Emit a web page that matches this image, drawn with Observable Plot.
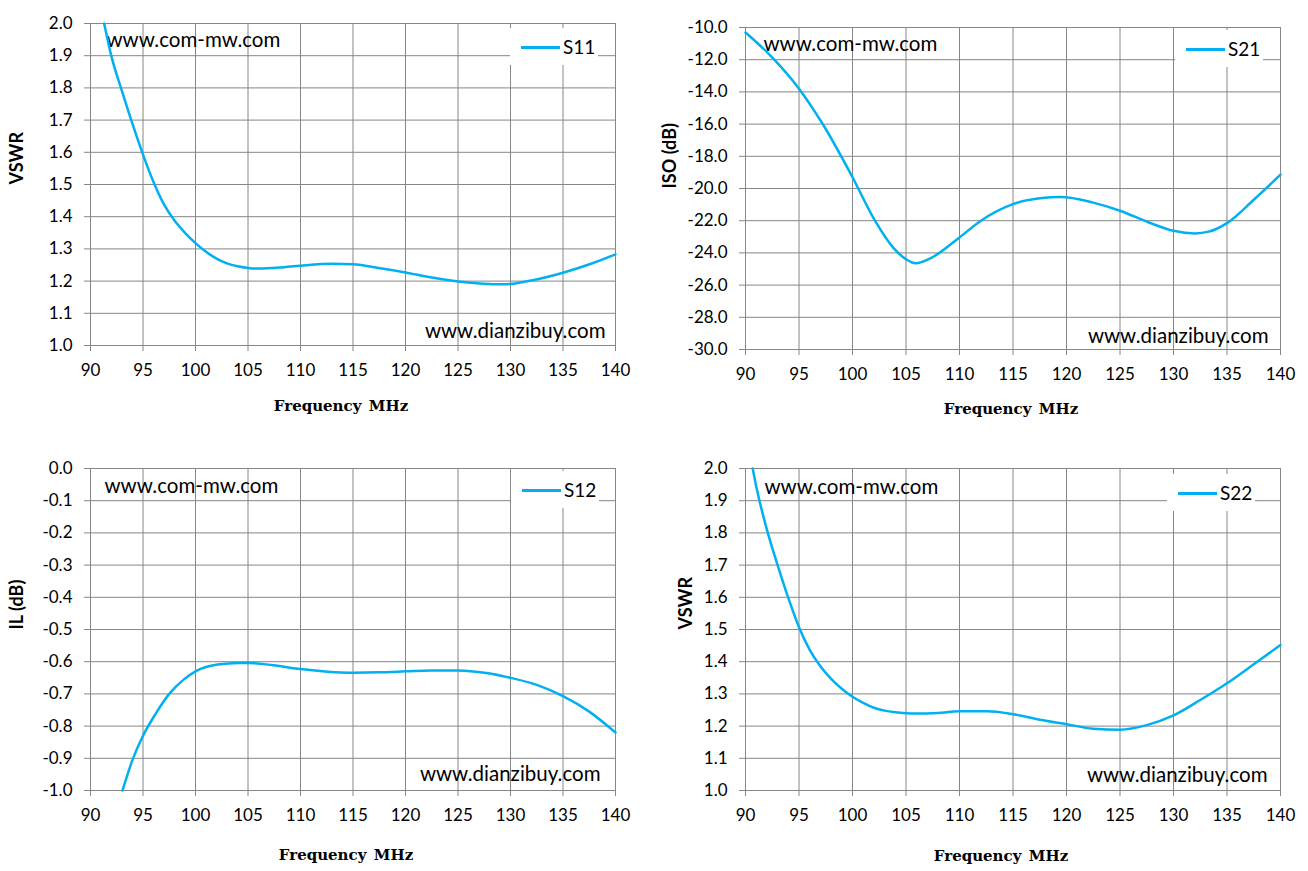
<!DOCTYPE html>
<html><head><meta charset="utf-8">
<script src="https://cdn.jsdelivr.net/npm/d3@7"></script>
<script src="https://cdn.jsdelivr.net/npm/@observablehq/plot@0.6"></script>
<style>
body{margin:0;background:#fff;}
#root{position:relative;width:1308px;height:871px;overflow:hidden;background:#fff;font-family:Lato,sans-serif;}
.panel{position:absolute;}
.legend{position:absolute;background:#fff;width:88px;height:37px;}
.legend .sw{position:absolute;left:11px;top:18px;width:39px;height:2.5px;background:#00B0F0;}
.legend .lt{position:absolute;left:53px;top:7px;font-size:19px;line-height:24px;color:#000;font-family:Lato,sans-serif;}
</style></head><body><div id="root"></div>
<script>
// ---- data ----
const xTicks = [90, 95, 100, 105, 110, 115, 120, 125, 130, 135, 140];
const vswrTicks = [1.0, 1.1, 1.2, 1.3, 1.4, 1.5, 1.6, 1.7, 1.8, 1.9, 2.0];
const isoTicks = [-30, -28, -26, -24, -22, -20, -18, -16, -14, -12, -10];
const ilTicks = [-1.0, -0.9, -0.8, -0.7, -0.6, -0.5, -0.4, -0.3, -0.2, -0.1, 0.0];

const s11Freq = [91.3, 92, 93, 94, 95, 96, 97, 98, 99, 100, 101, 102, 103, 104, 105, 106, 108, 110, 113, 115, 117.6, 120, 122.5, 125, 127.4, 129.1, 130, 131.7, 135, 137.6, 140];
const s11Vswr = [2.0, 1.897, 1.790, 1.688, 1.593, 1.508, 1.438, 1.388, 1.350, 1.318, 1.291, 1.270, 1.255, 1.246, 1.241, 1.239, 1.242, 1.248, 1.254, 1.252, 1.240, 1.227, 1.211, 1.199, 1.192, 1.190, 1.191, 1.200, 1.226, 1.253, 1.283];

const s21Freq = [90, 91, 92.6, 95, 97.2, 100, 102.1, 103.8, 105, 105.9, 107.4, 110, 112, 115, 117.5, 119.5, 122.4, 125, 127.7, 130, 132, 133.3, 135, 137.5, 140];
const s21Iso = [-10.31, -10.9, -11.93, -13.8, -15.98, -19.3, -22.0, -23.67, -24.39, -24.64, -24.29, -23.04, -22.0, -20.97, -20.61, -20.53, -20.86, -21.38, -22.11, -22.63, -22.79, -22.68, -22.15, -20.7, -19.14];

const s12Freq = [93.05, 94, 95, 96.2, 97.5, 98.9, 100, 102.1, 104.1, 105, 107.4, 110, 112.6, 115, 117.5, 120, 122.4, 125, 127.7, 130, 132.5, 135, 137.5, 140];
const s12Il = [-1.0, -0.905, -0.83, -0.762, -0.70, -0.655, -0.63, -0.609, -0.604, -0.604, -0.611, -0.623, -0.631, -0.634, -0.633, -0.630, -0.627, -0.627, -0.635, -0.650, -0.672, -0.707, -0.755, -0.820];

const s22Freq = [90.67, 91, 92, 93, 94, 95, 96, 97, 98, 99, 100, 101, 102, 103, 104, 105, 106, 108, 110, 112.6, 115, 117.5, 120, 122.5, 125, 127.5, 130, 132.5, 135, 137.5, 140];
const s22Vswr = [2.0, 1.945, 1.810, 1.700, 1.598, 1.507, 1.437, 1.386, 1.347, 1.316, 1.291, 1.272, 1.257, 1.248, 1.243, 1.240, 1.239, 1.241, 1.246, 1.246, 1.237, 1.220, 1.206, 1.192, 1.189, 1.203, 1.233, 1.281, 1.333, 1.392, 1.452];

const xTitle = "Frequency\u2002MHz";
const mark1 = "www.com-mw.com";
const mark2 = "www.dianzibuy.com";

// ---- layout ----
const panels = [
  {name: "S11", freq: s11Freq, vals: s11Vswr, ticks: vswrTicks, domain: [1.0, 2.0], yTitle: "VSWR",
   left: 0, top: 0, w: 654, h: 436, mL: 90, mR: 39, mT: 23, mB: 91,
   xtDx: -12, xtDy: 61, ytDx: -73, tl: [16, 17], br: [-10, -14], leg: [510, 28]},
  {name: "S21", freq: s21Freq, vals: s21Iso, ticks: isoTicks, domain: [-30, -10], yTitle: "ISO (dB)",
   left: 654, top: 0, w: 654, h: 436, mL: 91, mR: 28, mT: 27, mB: 87,
   xtDx: -2, xtDy: 60, ytDx: -75, tl: [18, 17], br: [-12, -13], leg: [1175 - 654, 30]},
  {name: "S12", freq: s12Freq, vals: s12Il, ticks: ilTicks, domain: [-1.0, 0.0], yTitle: "IL (dB)",
   left: 0, top: 436, w: 654, h: 435, mL: 90, mR: 39, mT: 32, mB: 81,
   xtDx: -7, xtDy: 65, ytDx: -73, tl: [14, 18], br: [-15, -16], leg: [511, 471 - 436]},
  {name: "S22", freq: s22Freq, vals: s22Vswr, ticks: vswrTicks, domain: [1.0, 2.0], yTitle: "VSWR",
   left: 654, top: 436, w: 654, h: 435, mL: 91, mR: 28, mT: 32, mB: 81,
   xtDx: -12, xtDy: 66, ytDx: -59, tl: [19, 19], br: [-13, -15], leg: [1167 - 654, 474 - 436]}
];

const GRID = "#868686";
const root = document.getElementById("root");

for (const p of panels) {
  const data = p.freq.map((f, i) => ({f, v: p.vals[i]}));
  const chart = Plot.plot({
    width: p.w, height: p.h,
    marginLeft: p.mL, marginRight: p.mR, marginTop: p.mT, marginBottom: p.mB,
    style: {fontFamily: "Lato, sans-serif", fontSize: "17px", color: "#000", background: "transparent"},
    x: {domain: [90, 140]},
    y: {domain: p.domain},
    marks: [
      Plot.gridX(xTicks, {stroke: GRID, strokeOpacity: 1, strokeWidth: 1}),
      Plot.gridY(p.ticks, {stroke: GRID, strokeOpacity: 1, strokeWidth: 1}),
      Plot.frame({stroke: GRID, strokeWidth: 1}),
      Plot.axisX(xTicks, {tickSize: 6, tickPadding: 12, stroke: GRID, fill: "#000", tickFormat: d => String(d), label: null, fontSize: 17}),
      Plot.axisY(p.ticks, {tickSize: 6, tickPadding: 12, stroke: GRID, fill: "#000", tickFormat: d => d.toFixed(1), label: null, fontSize: 17}),
      Plot.text([mark1], {frameAnchor: "top-left", text: d => d, textAnchor: "start", lineAnchor: "middle", dx: p.tl[0], dy: p.tl[1], fontSize: 20.5, fill: "#000"}),
      Plot.text([mark2], {frameAnchor: "bottom-right", text: d => d, textAnchor: "end", lineAnchor: "middle", dx: p.br[0], dy: p.br[1], fontSize: 20.5, fill: "#000"}),
      Plot.text([xTitle], {frameAnchor: "bottom", text: d => d, lineAnchor: "middle", dx: p.xtDx, dy: p.xtDy, fontFamily: "DejaVu Serif", fontWeight: "bold", fontSize: 15, fill: "#000"}),
      Plot.text([p.yTitle], {frameAnchor: "left", text: d => d, rotate: -90, lineAnchor: "middle", dx: p.ytDx, fontWeight: "bold", fontSize: 18, fill: "#000"}),
      Plot.line(data, {x: "f", y: "v", stroke: "#00B0F0", strokeWidth: 2.5, curve: "monotone-x"})
    ]
  });
  const wrap = document.createElement("div");
  wrap.className = "panel";
  wrap.style.left = p.left + "px";
  wrap.style.top = p.top + "px";
  wrap.style.width = p.w + "px";
  wrap.style.height = p.h + "px";
  wrap.appendChild(chart);
  const leg = document.createElement("div");
  leg.className = "legend";
  leg.style.left = p.leg[0] + "px";
  leg.style.top = p.leg[1] + "px";
  leg.innerHTML = '<div class="sw"></div><div class="lt">' + p.name + '</div>';
  wrap.appendChild(leg);
  root.appendChild(wrap);
}
</script>
</body></html>
